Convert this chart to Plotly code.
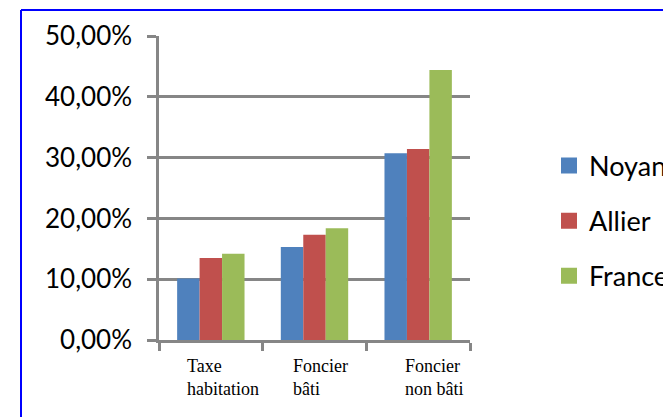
import plotly.graph_objects as go

categories = ["Taxe habitation", "Foncier bâti", "Foncier non bâti"]
cat_labels = ["Taxe<br>habitation", "Foncier<br>bâti", "Foncier<br>non bâti"]
series_names = ["Noyant", "Allier", "France"]
noyant = [0.101, 0.153, 0.307]
allier = [0.135, 0.173, 0.314]
france = [0.142, 0.184, 0.444]
series_values = [noyant, allier, france]
colors = ["#4F81BD", "#C0504D", "#9BBB59"]
label_shift = [-26, -24, -15]

# page body has an 8px default margin; figure is sized/offset to compensate
OFF = 8
W, H = 671 - OFF, 417 - OFF
ML, MT = 159 - OFF, 36 - OFF
MR = W - (470 - OFF)
MB = H - (340 - OFF)
pw = W - ML - MR
ph = H - MT - MB

def px_to_paper_x(px):
    return (px - OFF - ML) / pw

def px_to_paper_y(py):
    return (H - MB - (py - OFF)) / ph

fig = go.Figure()
for name, vals, col in zip(series_names, series_values, colors):
    fig.add_trace(go.Bar(x=categories, y=vals, name=name, marker_color=col,
                         marker_line_width=0, legendgroup=name, showlegend=False))
for name, col in zip(series_names, colors):
    fig.add_trace(go.Scatter(x=[None], y=[None], mode="markers", name=name,
                             legendgroup=name,
                             marker=dict(symbol="square", size=16, color=col)))

for cat, lab, sh in zip(categories, cat_labels, label_shift):
    fig.add_annotation(x=cat, xref="x", y=0, yref="paper", yanchor="top",
                       xanchor="left", align="left", xshift=sh, yshift=-14,
                       text=lab, showarrow=False,
                       font=dict(family="Liberation Serif", size=18, color="#000"))

# blue frame
fig.add_shape(type="line", xref="paper", yref="paper",
              x0=px_to_paper_x(21), x1=px_to_paper_x(720),
              y0=px_to_paper_y(10), y1=px_to_paper_y(10),
              line=dict(color="#0000FF", width=2))
fig.add_shape(type="line", xref="paper", yref="paper",
              x0=px_to_paper_x(21), x1=px_to_paper_x(21),
              y0=px_to_paper_y(10), y1=px_to_paper_y(460),
              line=dict(color="#0000FF", width=2))

fig.update_layout(
    width=W, height=H,
    margin=dict(l=ML, r=MR, t=MT, b=MB, pad=0, autoexpand=False),
    paper_bgcolor="white", plot_bgcolor="white",
    separators=",.",
    barmode="group", bargap=0.35, bargroupgap=0,
    showlegend=True,
    legend=dict(x=px_to_paper_x(549), y=px_to_paper_y(221), xanchor="left", yanchor="middle",
                font=dict(family="Lato", size=27, color="#000"),
                tracegroupgap=17, bgcolor="rgba(0,0,0,0)", borderwidth=0),
    font=dict(family="Lato", color="#000"),
)
fig.update_xaxes(type="category", showticklabels=False, ticks="outside", tickson="boundaries",
                 ticklen=8, tickwidth=2.5, tickcolor="#868686",
                 showline=True, linecolor="#868686", linewidth=2.5, showgrid=False)
fig.update_yaxes(range=[0, 0.5], dtick=0.1, tickformat=".2%", ticks="outside",
                 ticklen=9, tickwidth=2.5, tickcolor="#868686", ticklabelstandoff=10,
                 showline=True, linecolor="#868686", linewidth=2.5,
                 showgrid=True, gridcolor="#868686", gridwidth=2.5, zeroline=False,
                 tickfont=dict(family="Lato", size=26, color="#000"))

fig.write_html("out.html")
